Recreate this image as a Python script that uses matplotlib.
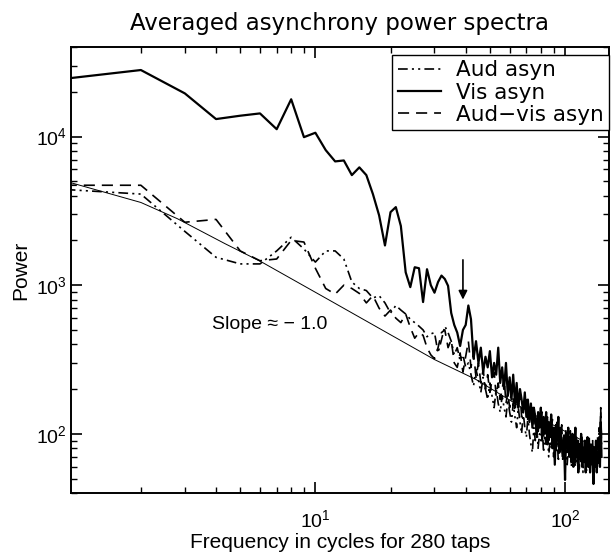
import numpy as np
import matplotlib
matplotlib.use("Agg")
import matplotlib.pyplot as plt
from matplotlib.ticker import LogLocator, NullFormatter

plt.rcParams['font.family'] = ['Liberation Sans', 'DejaVu Sans']
plt.rcParams['lines.scale_dashes'] = False

# ---------------- data ----------------
freq = np.arange(1, 141)

vis_asyn = [
    24500, 28000, 19500, 13100, 13800, 14300, 11200, 17800, 9900, 10600,
    8100, 6800, 6900, 5500, 6200, 5500, 4100, 2950, 1850, 3100,
    3350, 2500, 1220, 970, 1320, 1300, 770, 1280, 1000, 890,
    1050, 1160, 1100, 990, 650, 540, 480, 390, 500, 540,
    730, 590, 320, 420, 300, 380, 260, 330, 280, 360,
    240, 300, 250, 380, 220, 280, 200, 300, 180, 240,
    170, 250, 160, 220, 150, 200, 170, 140, 190, 130,
    170, 120, 160, 110, 150, 130, 95, 140, 110, 150,
    90, 130, 100, 140, 85, 120, 95, 135, 80, 110,
    62, 115, 90, 130, 75, 110, 85, 70, 95, 49,
    100, 80, 110, 70, 95, 65, 100, 60, 85, 110,
    70, 90, 55, 85, 70, 100, 60, 80, 65, 90,
    55, 75, 95, 60, 80, 55, 85, 65, 75, 46,
    80, 60, 90, 55, 75, 65, 95, 60, 120, 70,
]

aud_asyn = [
    4400, 4100, 2300, 1540, 1390, 1390, 1700, 2100, 1750, 1430,
    1700, 1700, 1500, 1050, 950, 920, 820, 850, 760, 650,
    730, 680, 640, 590, 560, 530, 500, 450, 470, 480,
    350, 430, 530, 480, 420, 340, 380, 310, 340, 280,
    300, 250, 210, 270, 230, 190, 240, 200, 170, 220,
    180, 150, 200, 160, 140, 180, 150, 130, 170, 140,
    120, 160, 130, 110, 150, 120, 100, 140, 110, 95,
    130, 100, 85, 75, 110, 90, 120, 80, 100, 90,
    115, 75, 95, 85, 105, 70, 90, 80, 100, 70,
    85, 75, 95, 65, 85, 75, 90, 65, 80, 70,
    90, 62, 80, 70, 88, 60, 78, 68, 85, 60,
    75, 65, 82, 58, 75, 65, 80, 55, 72, 64,
    78, 56, 70, 62, 75, 55, 70, 62, 76, 55,
    68, 60, 74, 56, 70, 62, 80, 60, 140, 85,
]

audvis_asyn = [
    4700, 4700, 2650, 2770, 1700, 1460, 1500, 2000, 1950, 1300,
    950, 870, 1000, 950, 880, 760, 850, 700, 620, 680,
    600, 560, 640, 520, 440, 480, 460, 380, 340, 320,
    380, 480, 500, 380, 430, 300, 280, 350, 260, 330,
    420, 280, 350, 240, 300, 220, 270, 200, 250, 190,
    230, 260, 180, 220, 170, 200, 240, 160, 190, 150,
    200, 170, 140, 180, 150, 190, 130, 160, 140, 170,
    120, 150, 130, 160, 115, 140, 120, 100, 135, 110,
    140, 95, 120, 105, 130, 90, 115, 100, 125, 85,
    110, 95, 120, 80, 105, 90, 115, 75, 100, 90,
    110, 75, 95, 85, 105, 70, 90, 80, 100, 70,
    95, 75, 90, 65, 85, 75, 95, 60, 85, 70,
    90, 65, 80, 70, 95, 60, 80, 70, 90, 60,
    85, 65, 80, 70, 95, 65, 110, 75, 150, 90,
]

fit_freq = [1, 2, 2.8, 4.35, 6.1, 11.8, 20, 30, 44, 73, 100, 140]
fit_power = [5000, 3600, 2800, 1900, 1430, 766, 464, 316, 232, 138, 104, 77]

arrow_freq = 39
arrow_from, arrow_to = 1480, 800

title = "Averaged asynchrony power spectra"
xlabel = "Frequency in cycles for 280 taps"
ylabel = "Power"
slope_text = "Slope \u2248 \u2212 1.0"
labels = ["Aud asyn", "Vis asyn", "Aud\u2212vis asyn"]

# ---------------- figure ----------------
W, H = 611, 552
fig = plt.figure(figsize=(W / 100, H / 100), dpi=100)
L, R, T, B = 71, 609, 47, 493
ax = fig.add_axes([L / W, 1 - B / H, (R - L) / W, (B - T) / H])

ax.set_xscale('log')
ax.set_yscale('log')

l_aud, = ax.plot(freq, aud_asyn, color='k', lw=1.2,
                 linestyle=(0, (7, 3, 1.5, 3, 1.5, 3)))
l_vis, = ax.plot(freq, vis_asyn, color='k', lw=1.6, linestyle='-')
l_av, = ax.plot(freq, audvis_asyn, color='k', lw=1.2,
                linestyle=(0, (8, 5)))
ax.plot(fit_freq, fit_power, color='k', lw=0.7)

ax.set_xlim(1.05, 150)
ax.set_ylim(40, 4e4)

ax.annotate('', xy=(arrow_freq, arrow_to), xytext=(arrow_freq, arrow_from),
            arrowprops=dict(arrowstyle='-|>', color='k', lw=1.2,
                            mutation_scale=13, shrinkA=0, shrinkB=0))

ax.text(0.37, 0.377, slope_text, transform=ax.transAxes, fontsize=14,
        ha='center', va='center')

for s in ax.spines.values():
    s.set_linewidth(1.4)

ax.xaxis.set_major_locator(LogLocator(base=10, numticks=10))
ax.xaxis.set_minor_locator(LogLocator(base=10, subs=np.arange(2, 10), numticks=20))
ax.yaxis.set_major_locator(LogLocator(base=10, numticks=10))
ax.yaxis.set_minor_locator(LogLocator(base=10, subs=np.arange(2, 10), numticks=20))
ax.xaxis.set_minor_formatter(NullFormatter())
ax.yaxis.set_minor_formatter(NullFormatter())

ax.tick_params(which='both', direction='in', top=True, right=True, color='k')
ax.tick_params(which='major', length=8, width=1.2, labelsize=14)
ax.tick_params(which='minor', length=4, width=1.0)
ax.tick_params(axis='x', which='major', pad=12)
ax.tick_params(axis='y', which='major', pad=3)

ax.set_xlabel(xlabel, fontsize=15, labelpad=1)
ax.set_ylabel(ylabel, fontsize=15, labelpad=4)
ax.set_title(title, fontsize=16.5, family=['DejaVu Sans'], pad=12)

leg = ax.legend([l_aud, l_vis, l_av], labels, loc='upper right',
                bbox_to_anchor=(1.0, 1 - 8 / (B - T)), borderaxespad=0,
                fancybox=False, frameon=True, edgecolor='k', framealpha=1,
                prop={'family': 'DejaVu Sans', 'size': 15.5},
                handlelength=2.0, handletextpad=0.7, labelspacing=0.1,
                borderpad=0.25)
leg.get_frame().set_linewidth(1.0)

fig.savefig('out.png', dpi=100)
